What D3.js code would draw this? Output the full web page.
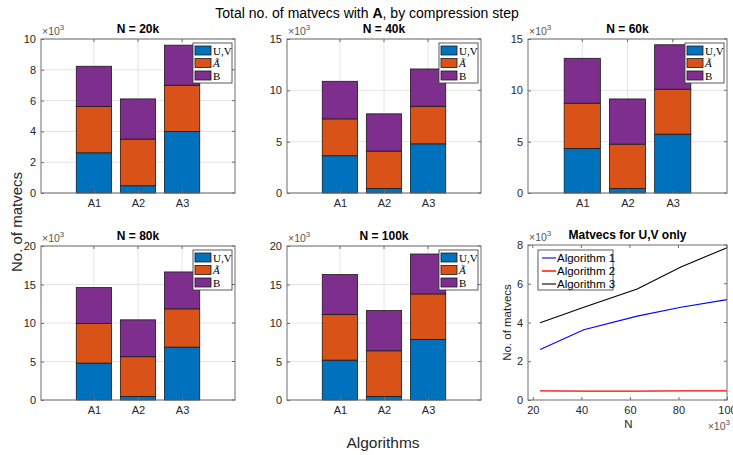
<!DOCTYPE html>
<html><head><meta charset="utf-8">
<script src="https://cdn.jsdelivr.net/npm/d3@7"></script>
<style>
body{margin:0;background:#fff;}
svg{font-family:"Liberation Sans",Arial,Helvetica,sans-serif;}
</style></head>
<body><svg id="c" width="733" height="455"></svg>
<script>
// ---------------- data ----------------
const algorithms = ["A1", "A2", "A3"];
const panelTitles = ["N = 20k", "N = 40k", "N = 60k", "N = 80k", "N = 100k"];
const yMaxes = [10000, 15000, 15000, 20000, 20000];
const yTickSteps = [2000, 5000, 5000, 5000, 5000];
const stepNames = ["U,V", "Ã", "B"];
// segment sizes per panel, per algorithm (A1,A2,A3)
const uvValues = [[2610, 470, 3990], [3630, 450, 4790], [4330, 450, 5730], [4790, 470, 6870], [5180, 470, 7860]];
const aTildeValues = [[3000, 3030, 3010], [3590, 3630, 3660], [4420, 4310, 4380], [5150, 5150, 4970], [5920, 5920, 5920]];
const bValues = [[2620, 2610, 2600], [3660, 3630, 3630], [4370, 4400, 4330], [4660, 4790, 4790], [5190, 5230, 5180]];
// line chart: matvecs for U,V only
const nValues = [23000, 41000, 63000, 81000, 100000];
const alg1UV = [2610, 3630, 4330, 4790, 5180];
const alg2UV = [470, 460, 460, 470, 470];
const alg3UV = [3990, 4790, 5730, 6870, 7860];
const lineNames = ["Algorithm 1", "Algorithm 2", "Algorithm 3"];
const nTicks = [20000, 40000, 60000, 80000, 100000];
const lineYTicks = [0, 2000, 4000, 6000, 8000];

// ---------------- style ----------------
const barColors = ["#0072BD", "#D95319", "#7E2F8E"];
const lineColors = ["#0000ff", "#ff0000", "#000000"];
const axisColor = "#262626";
const boxColor = "#6e6e6e";
const gridColor = "#e4e4e4";
const cols = [[41, 235], [287, 481], [528, 727]];
const rows = [[39, 193], [246, 400]];

const svg = d3.select("#c");

// main title
const mt = svg.append("text").attr("x", 367).attr("y", 18).attr("text-anchor", "middle")
  .attr("font-size", 14).attr("fill", "#000");
mt.append("tspan").text("Total no. of matvecs with ");
mt.append("tspan").attr("font-weight", "bold").text("A");
mt.append("tspan").text(", by compression step");

// shared labels
svg.append("text").attr("transform", "translate(22,222) rotate(-90)").attr("text-anchor", "middle")
  .attr("font-size", 15).attr("fill", axisColor).text("No. of matvecs");
svg.append("text").attr("x", 383).attr("y", 448).attr("text-anchor", "middle")
  .attr("font-size", 15.5).attr("fill", axisColor).text("Algorithms");

function exponentLabel(g, x, y, anchor) {
  const t = g.append("text").attr("x", x).attr("y", y).attr("font-size", 10.5)
    .attr("fill", "#555").attr("text-anchor", anchor || "start");
  t.append("tspan").text("×10");
  t.append("tspan").attr("font-size", 8).attr("dy", -5).text("3");
}

function drawBars(i) {
  const col = cols[i % 3], row = rows[Math.floor(i / 3)];
  const x0 = col[0], x1 = col[1], y0 = row[0], y1 = row[1];
  const g = svg.append("g");
  const x = d3.scaleLinear().domain([-0.2, 4.2]).range([x0, x1]);
  const y = d3.scaleLinear().domain([0, yMaxes[i]]).range([y1, y0]);
  const ticks = d3.range(0, yMaxes[i] + 1, yTickSteps[i]);
  // grid
  g.selectAll(".hg").data(ticks).join("line").attr("x1", x0).attr("x2", x1)
    .attr("y1", d => y(d)).attr("y2", d => y(d)).attr("stroke", gridColor);
  g.selectAll(".vg").data(algorithms).join("line")
    .attr("x1", (d, j) => x(j + 1)).attr("x2", (d, j) => x(j + 1))
    .attr("y1", y0).attr("y2", y1).attr("stroke", gridColor);
  // stacked bars
  const series = [uvValues[i], aTildeValues[i], bValues[i]];
  const bw = x(0.8) - x(0);
  algorithms.forEach((a, j) => {
    let base = 0;
    series.forEach((s, k) => {
      const v = s[j];
      g.append("rect").attr("x", x(j + 1) - bw / 2).attr("width", bw)
        .attr("y", y(base + v)).attr("height", y(base) - y(base + v))
        .attr("fill", barColors[k]).attr("stroke", "#1a1a1a").attr("stroke-width", 0.8);
      base += v;
    });
  });
  // axes box
  g.append("rect").attr("x", x0).attr("y", y0).attr("width", x1 - x0).attr("height", y1 - y0)
    .attr("fill", "none").attr("stroke", boxColor).attr("stroke-width", 1);
  // ticks
  const yAxis = d3.axisLeft(y).tickValues(ticks).tickSize(3).tickFormat(d => d / 1000);
  const ya = g.append("g").attr("transform", `translate(${x0},0)`).call(yAxis);
  ya.select(".domain").remove();
  ya.selectAll("line").attr("stroke", boxColor).attr("transform", "translate(3,0)");
  ya.selectAll("text").attr("font-size", 11).attr("fill", axisColor).attr("x", -5)
    .attr("font-family", "Liberation Sans, Arial, sans-serif");
  g.selectAll(".ryt").data(ticks).join("line").attr("x1", x1 - 3).attr("x2", x1)
    .attr("y1", d => y(d)).attr("y2", d => y(d)).attr("stroke", boxColor);
  const xa = g.append("g").attr("transform", `translate(0,${y1})`)
    .call(d3.axisBottom(x).tickValues([1, 2, 3]).tickSize(3).tickFormat((d) => algorithms[d - 1]));
  xa.select(".domain").remove();
  xa.selectAll("line").attr("stroke", boxColor).attr("transform", "translate(0,-3)");
  xa.selectAll("text").attr("font-size", 11).attr("fill", axisColor).attr("y", 6)
    .attr("font-family", "Liberation Sans, Arial, sans-serif");
  g.selectAll(".tt").data([1, 2, 3]).join("line").attr("x1", d => x(d)).attr("x2", d => x(d))
    .attr("y1", y0).attr("y2", y0 + 3).attr("stroke", boxColor);
  // title + exponent
  g.append("text").attr("x", (x0 + x1) / 2).attr("y", y0 - 6).attr("text-anchor", "middle")
    .attr("font-size", 12).attr("font-weight", "bold").attr("fill", "#000").text(panelTitles[i]);
  exponentLabel(g, x0 + 1, y0 - 4);
  // legend
  const lw = 39, lh = 40, lx = x1 - 3 - lw, ly = y0 + 4;
  const lg = g.append("g");
  lg.append("rect").attr("x", lx).attr("y", ly).attr("width", lw).attr("height", lh)
    .attr("fill", "#fff").attr("stroke", "#333").attr("stroke-width", 0.8);
  stepNames.forEach((n, k) => {
    const cy = ly + 7.5 + k * 12.5;
    lg.append("rect").attr("x", lx + 2).attr("y", cy - 4.5).attr("width", 16).attr("height", 9)
      .attr("fill", barColors[k]).attr("stroke", "#1a1a1a").attr("stroke-width", 0.8);
    lg.append("text").attr("x", lx + 20).attr("y", cy + 4).attr("font-size", 11)
      .attr("font-family", "Liberation Serif, DejaVu Serif, serif")
      .attr("font-style", k === 1 ? "italic" : "normal").attr("fill", "#000").text(n);
  });
}
for (let i = 0; i < 5; i++) drawBars(i);

// ---------------- line chart ----------------
(function () {
  const x0 = cols[2][0], x1 = cols[2][1], y0 = 245, y1 = rows[1][1];
  const g = svg.append("g");
  const x = d3.scaleLinear().domain([18000, 100000]).range([x0, x1]);
  const y = d3.scaleLinear().domain([0, 8000]).range([y1, y0]);
  const lines = [alg1UV, alg2UV, alg3UV];
  const lineGen = d3.line().x((d, k) => x(nValues[k])).y(d => y(d));
  lines.forEach((s, k) => {
    g.append("path").attr("d", lineGen(s)).attr("fill", "none")
      .attr("stroke", lineColors[k]).attr("stroke-width", k === 1 ? 1.4 : 1.1);
  });
  g.append("rect").attr("x", x0).attr("y", y0).attr("width", x1 - x0).attr("height", y1 - y0)
    .attr("fill", "none").attr("stroke", boxColor);
  const ya = g.append("g").attr("transform", `translate(${x0},0)`)
    .call(d3.axisLeft(y).tickValues(lineYTicks).tickSize(3).tickFormat(d => d / 1000));
  ya.select(".domain").remove();
  ya.selectAll("line").attr("stroke", boxColor).attr("transform", "translate(3,0)");
  ya.selectAll("text").attr("font-size", 11).attr("fill", axisColor).attr("x", -5)
    .attr("font-family", "Liberation Sans, Arial, sans-serif");
  g.selectAll(".ryt").data(lineYTicks).join("line").attr("x1", x1 - 3).attr("x2", x1)
    .attr("y1", d => y(d)).attr("y2", d => y(d)).attr("stroke", boxColor);
  const xa = g.append("g").attr("transform", `translate(0,${y1})`)
    .call(d3.axisBottom(x).tickValues(nTicks).tickSize(3).tickFormat(d => d / 1000));
  xa.select(".domain").remove();
  xa.selectAll("line").attr("stroke", boxColor).attr("transform", "translate(0,-3)");
  xa.selectAll("text").attr("font-size", 11).attr("fill", axisColor).attr("y", 6)
    .attr("font-family", "Liberation Sans, Arial, sans-serif");
  g.selectAll(".tt").data(nTicks).join("line").attr("x1", d => x(d)).attr("x2", d => x(d))
    .attr("y1", y0).attr("y2", y0 + 3).attr("stroke", boxColor);
  g.append("text").attr("x", (x0 + x1) / 2).attr("y", y0 - 6).attr("text-anchor", "middle")
    .attr("font-size", 12).attr("font-weight", "bold").attr("fill", "#000").text("Matvecs for U,V only");
  exponentLabel(g, x0 + 1, y0 - 4);
  g.append("text").attr("transform", `translate(${x0 - 17},${(y0 + y1) / 2}) rotate(-90)`)
    .attr("text-anchor", "middle").attr("font-size", 11.5).attr("fill", axisColor).text("No. of matvecs");
  g.append("text").attr("x", (x0 + x1) / 2 + 1).attr("y", y1 + 28).attr("text-anchor", "middle")
    .attr("font-size", 11.5).attr("fill", axisColor).text("N");
  exponentLabel(g, x1 + 3, y1 + 30, "end");
  // legend
  const lx = 538, ly = 250, lw = 75, lh = 40;
  g.append("rect").attr("x", lx).attr("y", ly).attr("width", lw).attr("height", lh)
    .attr("fill", "#fff").attr("stroke", "#333").attr("stroke-width", 0.8);
  lineNames.forEach((n, k) => {
    const cy = ly + 8 + k * 13;
    g.append("line").attr("x1", lx + 4).attr("x2", lx + 18).attr("y1", cy).attr("y2", cy)
      .attr("stroke", lineColors[k]).attr("stroke-width", k === 1 ? 1.4 : 1.1);
    g.append("text").attr("x", lx + 19).attr("y", cy + 4).attr("font-size", 11.5)
      .attr("fill", "#000").text(n);
  });
})();
</script></body></html>
